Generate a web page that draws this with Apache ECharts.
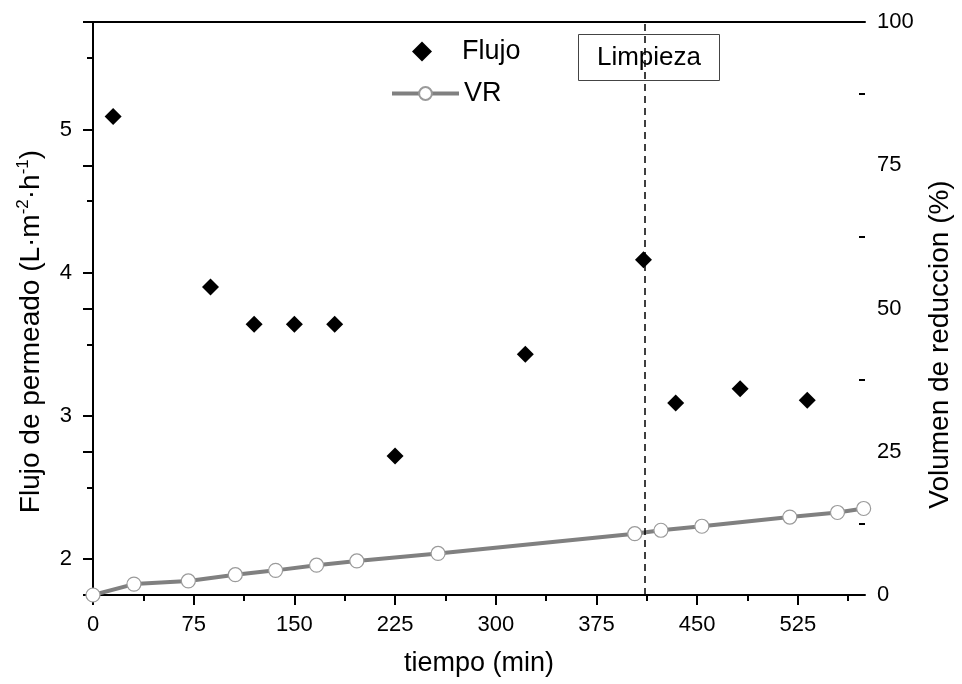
<!DOCTYPE html>
<html>
<head>
<meta charset="utf-8">
<script src="https://cdn.jsdelivr.net/npm/echarts@6/dist/echarts.min.js"></script>
<style>html,body{margin:0;padding:0;background:#fff}#c{width:962px;height:684px}</style>
</head>
<body>
<div id="c"></div>
<script>
// ---- data ----
const flujoTime = [15, 87.5, 120, 150, 180, 225, 322, 410, 434, 482, 532];
const flujoValues = [5.09, 3.90, 3.64, 3.64, 3.64, 2.72, 3.43, 4.09, 3.09, 3.19, 3.11];
const vrTime = [0, 30.5, 71, 106, 136, 166.5, 196.5, 257, 403.5, 423, 453.5, 519, 554.5, 574];
const vrValues = [0, 1.9, 2.45, 3.55, 4.3, 5.2, 5.95, 7.25, 10.7, 11.3, 12.0, 13.6, 14.4, 15.1];
const xTickLabels = [0, 75, 150, 225, 300, 375, 450, 525];
const xMinorTicks = [37.5, 112.5, 187.5, 262.5, 337.5, 412.5, 487.5, 562.5];
const yLeftTickLabels = [2, 3, 4, 5];
const yLeftMinorTicks = [2.5, 3.5, 4.5, 5.5];
const yRightTickLabels = [0, 25, 50, 75, 100];
const yRightMinorTicks = [12.5, 37.5, 62.5, 87.5];
const cleaningTime = 411;
const seriesNames = ['Flujo', 'VR'];
const annotationText = 'Limpieza';

const FONT = 'Liberation Sans, Arial, sans-serif';
const chart = echarts.init(document.getElementById('c'), null, {renderer: 'canvas'});

const axisLineStyle = {color: '#000', width: 2};
const hidden = {show: false};

const option = {
  backgroundColor: '#fff',
  animation: false,
  grid: {left: 93, right: 94, top: 22, bottom: 89, containLabel: false},
  legend: [
    {data: [seriesNames[0]], left: 407, top: 33, itemWidth: 20, itemHeight: 20,
     textStyle: {fontFamily: FONT, fontSize: 27, color: '#000', lineHeight: 20, padding: [0, 0, 0, 25]}, selectedMode: false},
    {data: [seriesNames[1]], left: 385, top: 75, itemWidth: 67, itemHeight: 16,
     lineStyle: {color: '#808080', width: 4},
     textStyle: {fontFamily: FONT, fontSize: 27, color: '#000', lineHeight: 18}, selectedMode: false}
  ],
  xAxis: [
    {type: 'value', position: 'bottom', min: 0, max: 575,
     name: 'tiempo (min)', nameLocation: 'middle', nameGap: 55,
     nameTextStyle: {fontFamily: FONT, fontSize: 27, color: '#000'},
     axisLine: {show: true, lineStyle: axisLineStyle},
     axisTick: {show: true, inside: false, length: 10, lineStyle: axisLineStyle, customValues: xTickLabels},
     axisLabel: {show: true, margin: 19, fontFamily: FONT, fontSize: 22, color: '#000', customValues: xTickLabels},
     splitLine: hidden},
    {type: 'value', position: 'bottom', min: 0, max: 575,
     axisLine: hidden, axisLabel: hidden, splitLine: hidden,
     axisTick: {show: true, inside: false, length: 6, lineStyle: axisLineStyle, customValues: xMinorTicks}},
    {type: 'value', position: 'top', min: 0, max: 575,
     axisLine: {show: true, lineStyle: axisLineStyle}, axisTick: hidden, axisLabel: hidden, splitLine: hidden}
  ],
  yAxis: [
    {type: 'value', position: 'left', min: 1.75, max: 5.75,
     name: 'Flujo de permeado (L·m{sup|-2}·h{sup|-1})', nameLocation: 'middle', nameGap: 46,
     nameTextStyle: {fontFamily: FONT, fontSize: 28, color: '#000', lineHeight: 32, padding: [0, 46, 0, 0],
       rich: {sup: {fontFamily: FONT, fontSize: 17, color: '#000', verticalAlign: 'top', lineHeight: 32, padding: [0, 0, 11, 0]}}},
     axisLine: {show: true, lineStyle: axisLineStyle},
     axisTick: {show: true, inside: false, length: 10, lineStyle: axisLineStyle, customValues: yLeftTickLabels},
     axisLabel: {show: true, margin: 21, fontFamily: FONT, fontSize: 22, color: '#000', customValues: yLeftTickLabels},
     splitLine: hidden},
    {type: 'value', position: 'right', min: 0, max: 100,
     name: 'Volumen de reduccion (%)', nameLocation: 'middle', nameGap: 61, nameRotate: 90,
     nameTextStyle: {fontFamily: FONT, fontSize: 28, color: '#000', padding: [0, 72, 0, 0]},
     axisLine: {show: true, lineStyle: axisLineStyle},
     axisTick: {show: true, inside: true, length: 10, lineStyle: axisLineStyle, customValues: yRightTickLabels},
     axisLabel: {show: true, margin: 12, fontFamily: FONT, fontSize: 22, color: '#000', customValues: yRightTickLabels},
     splitLine: hidden},
    {type: 'value', position: 'left', min: 1.75, max: 5.75,
     axisLine: hidden, axisLabel: hidden, splitLine: hidden,
     axisTick: {show: true, inside: false, length: 6, lineStyle: axisLineStyle, customValues: yLeftMinorTicks}},
    {type: 'value', position: 'right', min: 0, max: 100,
     axisLine: hidden, axisLabel: hidden, splitLine: hidden,
     axisTick: {show: true, inside: true, length: 6, lineStyle: axisLineStyle, customValues: yRightMinorTicks}}
  ],
  series: [
    {name: seriesNames[1], type: 'line', xAxisIndex: 0, yAxisIndex: 1,
     data: vrTime.map((t, i) => [t, vrValues[i]]),
     symbol: 'circle', symbolSize: 14, showAllSymbol: true,
     lineStyle: {color: '#808080', width: 4},
     itemStyle: {color: '#fff', borderColor: '#9a9a9a', borderWidth: 1.2},
     z: 2},
    {name: seriesNames[0], type: 'scatter', xAxisIndex: 0, yAxisIndex: 0,
     data: flujoTime.map((t, i) => [t, flujoValues[i]]),
     symbol: 'diamond', symbolSize: 17,
     itemStyle: {color: '#000', opacity: 1},
     z: 3,
     markLine: {silent: true, symbol: 'none', label: {show: false},
       lineStyle: {color: '#000', type: [7, 5], width: 1.5},
       data: [{xAxis: cleaningTime}]}}
  ],
  graphic: [
    {type: 'group', left: 578, top: 34, z: 100, children: [
      {type: 'rect', shape: {x: 0, y: 0, width: 141, height: 46},
       style: {fill: '#fff', stroke: '#444', lineWidth: 1}},
      {type: 'text', x: 70.5, y: 23,
       style: {text: annotationText, fontFamily: FONT, fontSize: 26, fill: '#000', align: 'center', verticalAlign: 'middle'}}
    ]}
  ]
};
chart.setOption(option);
</script>
</body>
</html>
